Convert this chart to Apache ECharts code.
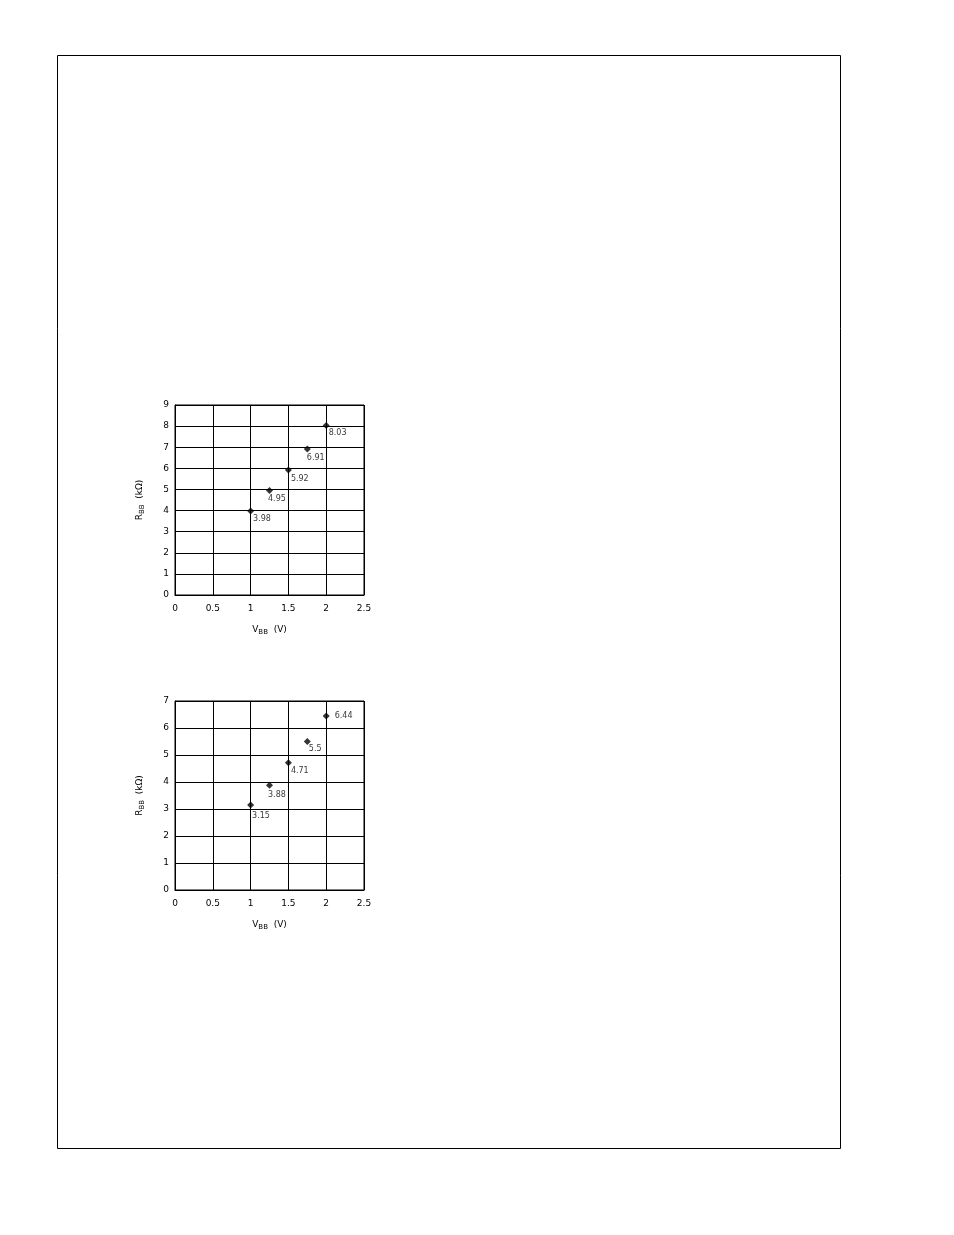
<!DOCTYPE html>
<html>
<head>
<meta charset="utf-8">
<script src="https://cdn.jsdelivr.net/npm/echarts@6/dist/echarts.min.js"></script>
<style>
  html, body { margin: 0; padding: 0; background: #fff; }
  #main { width: 954px; height: 1235px; }
</style>
</head>
<body>
<div id="main"></div>
<script>
// data
var vbb = [1, 1.25, 1.5, 1.75, 2];
var rbbTop = [3.98, 4.95, 5.92, 6.91, 8.03];
var rbbBottom = [3.15, 3.88, 4.71, 5.5, 6.44];
var xTicks = [0, 0.5, 1, 1.5, 2, 2.5];

// where each value label sits relative to its marker (style only)
var topLabelPos = [[6, 7], [2, 8], [6, 8], [3, 8], [6, 7]];
var bottomLabelPos = [[5, 10], [2, 9], [6, 8], [5, 7], 'right'];

var font = 'DejaVu Sans';
var myChart = echarts.init(document.getElementById('main'));

function xAxis(idx) {
  return {
    gridIndex: idx, type: 'value', min: 0, max: 2.5, interval: 0.5,
    name: '{a|V}{b|BB}{a|  (V)}', nameLocation: 'middle', nameGap: 28,
    nameTextStyle: {
      rich: {
        a: { fontFamily: font, fontSize: 9, color: '#000' },
        b: { fontFamily: font, fontSize: 7, color: '#000', padding: [6, 0, 0, 0] }
      }
    },
    axisLine: { show: true, lineStyle: { color: '#000', width: 1 } },
    axisTick: { show: false },
    axisLabel: { color: '#000', fontFamily: font, fontSize: 9, margin: 9,
      formatter: function (v) { return xTicks.indexOf(v) >= 0 ? String(v) : ''; } },
    splitLine: { show: true, lineStyle: { color: '#000', width: 1 } }
  };
}

function yAxis(idx, max) {
  return {
    gridIndex: idx, type: 'value', min: 0, max: max, interval: 1,
    name: '{a|R}{b|BB}{a|  (kΩ)}', nameLocation: 'middle', nameGap: 29, nameRotate: 90,
    nameTextStyle: {
      rich: {
        a: { fontFamily: font, fontSize: 9, color: '#000' },
        b: { fontFamily: font, fontSize: 7, color: '#000', padding: [6, 0, 0, 0] }
      }
    },
    axisLine: { show: true, lineStyle: { color: '#000', width: 1 } },
    axisTick: { show: false },
    axisLabel: { color: '#000', fontFamily: font, fontSize: 9, margin: 6 },
    splitLine: { show: true, lineStyle: { color: '#000', width: 1 } }
  };
}

function points(values, posList, fmt) {
  return vbb.map(function (v, i) {
    var pos = posList[i];
    var lbl = pos === 'right' ? { position: 'right', distance: 5 } : { position: pos };
    lbl.formatter = fmt(values[i]);
    return { value: [v, values[i]], label: lbl };
  });
}

var option = {
  backgroundColor: '#fff',
  animation: false,
  graphic: [{
    type: 'rect', shape: { x: 57.5, y: 55.5, width: 783, height: 1093 },
    style: { fill: 'none', stroke: '#000', lineWidth: 1 }, silent: true
  }],
  grid: [
    { left: 175, top: 405, width: 189, height: 190, show: true, borderColor: '#000', borderWidth: 1 },
    { left: 175, top: 701, width: 189, height: 189, show: true, borderColor: '#000', borderWidth: 1 }
  ],
  xAxis: [xAxis(0), xAxis(1)],
  yAxis: [yAxis(0, 9), yAxis(1, 7)],
  series: [
    {
      type: 'scatter', xAxisIndex: 0, yAxisIndex: 0,
      symbol: 'diamond', symbolSize: 7,
      itemStyle: { color: '#000' },
      label: { show: true, color: '#000', fontFamily: font, fontSize: 8 },
      data: points(rbbTop, topLabelPos, function (v) { return v.toFixed(2); })
    },
    {
      type: 'scatter', xAxisIndex: 1, yAxisIndex: 1,
      symbol: 'diamond', symbolSize: 7,
      itemStyle: { color: '#000' },
      label: { show: true, color: '#000', fontFamily: font, fontSize: 8 },
      data: points(rbbBottom, bottomLabelPos, function (v) { return String(v); })
    }
  ]
};
myChart.setOption(option);
</script>
</body>
</html>
